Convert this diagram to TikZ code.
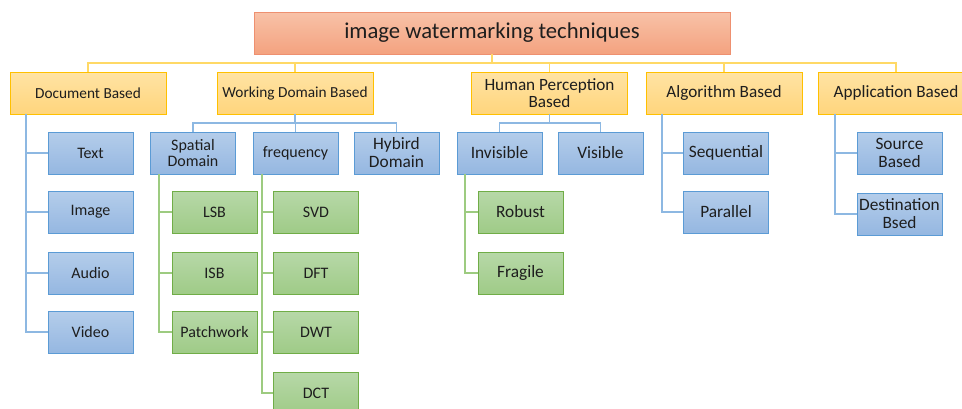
\documentclass[tikz,border=0pt]{standalone}
\usepackage{fontspec}
\setmainfont{Carlito}
\usepackage{tikz}
\usetikzlibrary{positioning,calc}
\definecolor{ink}{HTML}{1E1E1E}
\definecolor{roottop}{HTML}{F8C2A8}
\definecolor{rootbot}{HTML}{F4A27F}
\definecolor{rootline}{HTML}{EE9070}
\definecolor{cattop}{HTML}{FFE3A4}
\definecolor{catbot}{HTML}{FFD57C}
\definecolor{catline}{HTML}{FFC000}
\definecolor{leaftop}{HTML}{B4CDEA}
\definecolor{leafbot}{HTML}{95B7E1}
\definecolor{leafline}{HTML}{5B9BD5}
\definecolor{techtop}{HTML}{B7D8A8}
\definecolor{techbot}{HTML}{9FCB87}
\definecolor{techline}{HTML}{70AD47}
\definecolor{busyellow}{HTML}{FFD966}
\definecolor{busblue}{HTML}{8DB8E2}
\definecolor{busgreen}{HTML}{9DCB80}
\tikzset{
  every node/.style={text=ink},
  rootbox/.style={draw=rootline,top color=roottop,bottom color=rootbot,minimum width=357pt,minimum height=31.5pt,inner sep=0pt,font=\fontsize{17}{20}\selectfont},
  catbox/.style={draw=catline,top color=cattop,bottom color=catbot,minimum width=117pt,minimum height=31.5pt,inner sep=1pt,align=center,font=\fontsize{11.5}{12.75}\selectfont},
  bigcat/.style={catbox,font=\fontsize{12.9}{12.75}\selectfont},
  leafbox/.style={draw=leafline,top color=leaftop,bottom color=leafbot,minimum width=63.75pt,minimum height=31.5pt,inner sep=1pt,align=center,font=\fontsize{12}{12}\selectfont},
  bigleaf/.style={leafbox,font=\fontsize{13}{13.5}\selectfont},
  techbox/.style={leafbox,draw=techline,top color=techtop,bottom color=techbot},
  bigtech/.style={bigleaf,draw=techline,top color=techtop,bottom color=techbot},
  ybus/.style={draw=busyellow,line width=1.1pt},
  bbus/.style={draw=busblue,line width=1.1pt},
  gbus/.style={draw=busgreen,line width=1.1pt}
}
\begin{document}
\begin{tikzpicture}[x=0.75pt,y=-0.75pt]
  \useasboundingbox (0,0) rectangle (962,408);
  % top and categories
  \node[rootbox] (root) at (492,33) {image watermarking techniques};
  \node[catbox] (doc) at (88,93) {Document Based};
  \node[catbox] (wdb) at (295,93) {Working Domain Based};
  \node[bigcat] (hp) at (549.5,93) {Human Perception\\Based};
  \node[bigcat] (algo) at (724,93) {Algorithm Based};
  \node[bigcat] (app) at (896,93) {Application Based};

  % document based
  \node[leafbox] (text) at (90.5,153) {Text};
  \node[leafbox] (image) at (90.5,212) {Image};
  \node[leafbox] (audio) at (90.5,273) {Audio};
  \node[leafbox] (video) at (90.5,332) {Video};

  % working domain
  \node[leafbox] (spatial) at (193,153) {Spatial\\Domain};
  \node[leafbox] (freq) at (295.5,153) {frequency};
  \node[bigleaf] (hybrid) at (396.5,153) {Hybird\\Domain};
  \node[techbox] (lsb) at (214.5,212) {LSB};
  \node[techbox] (isb) at (214.5,273) {ISB};
  \node[techbox] (patch) at (214.5,332) {Patchwork};
  \node[techbox] (svd) at (316,212) {SVD};
  \node[techbox] (dft) at (316,273) {DFT};
  \node[techbox] (dwt) at (316,332) {DWT};
  \node[techbox] (dct) at (316,393) {DCT};

  % human perception
  \node[bigleaf] (invis) at (499.5,153) {Invisible};
  \node[bigleaf] (vis) at (600.5,153) {Visible};
  \node[bigtech] (robust) at (520.5,212) {Robust};
  \node[bigtech] (fragile) at (520.5,273) {Fragile};

  % algorithm and application
  \node[bigleaf] (seq) at (726,153) {Sequential};
  \node[bigleaf] (par) at (726,212) {Parallel};
  \node[bigleaf] (src) at (899.5,153) {Source\\Based};
  \node[bigleaf] (dest) at (899.5,214) {Destination\\Bsed};

  % trunks
  \coordinate (rootBus) at (492,63);
  \coordinate (wdbBus) at (295,123);
  \coordinate (hpBus) at (549.5,123);
  \coordinate (docTrunk) at (26,114);
  \coordinate (spTrunk) at (159,174);
  \coordinate (frTrunk) at (262,174);
  \coordinate (invTrunk) at (465,174);
  \coordinate (algoTrunk) at (662,114);
  \coordinate (appTrunk) at (835,114);

  \draw[ybus] (root.south) -- (rootBus);
  \foreach \c in {doc,wdb,hp,algo,app}
    \draw[ybus] (rootBus) -| (\c.north);
  \foreach \c in {text,image,audio,video}
    \draw[bbus] (docTrunk) |- (\c.west);
  \draw[bbus] (wdb.south) -- (wdbBus);
  \foreach \c in {spatial,freq,hybrid}
    \draw[bbus] (wdbBus) -| (\c.north);
  \foreach \c in {lsb,isb,patch}
    \draw[gbus] (spTrunk) |- (\c.west);
  \foreach \c in {svd,dft,dwt,dct}
    \draw[gbus] (frTrunk) |- (\c.west);
  \draw[bbus] (hp.south) -- (hpBus);
  \foreach \c in {invis,vis}
    \draw[bbus] (hpBus) -| (\c.north);
  \foreach \c in {robust,fragile}
    \draw[gbus] (invTrunk) |- (\c.west);
  \foreach \c in {seq,par}
    \draw[bbus] (algoTrunk) |- (\c.west);
  \foreach \c in {src,dest}
    \draw[bbus] (appTrunk) |- (\c.west);
\end{tikzpicture}
\end{document}
